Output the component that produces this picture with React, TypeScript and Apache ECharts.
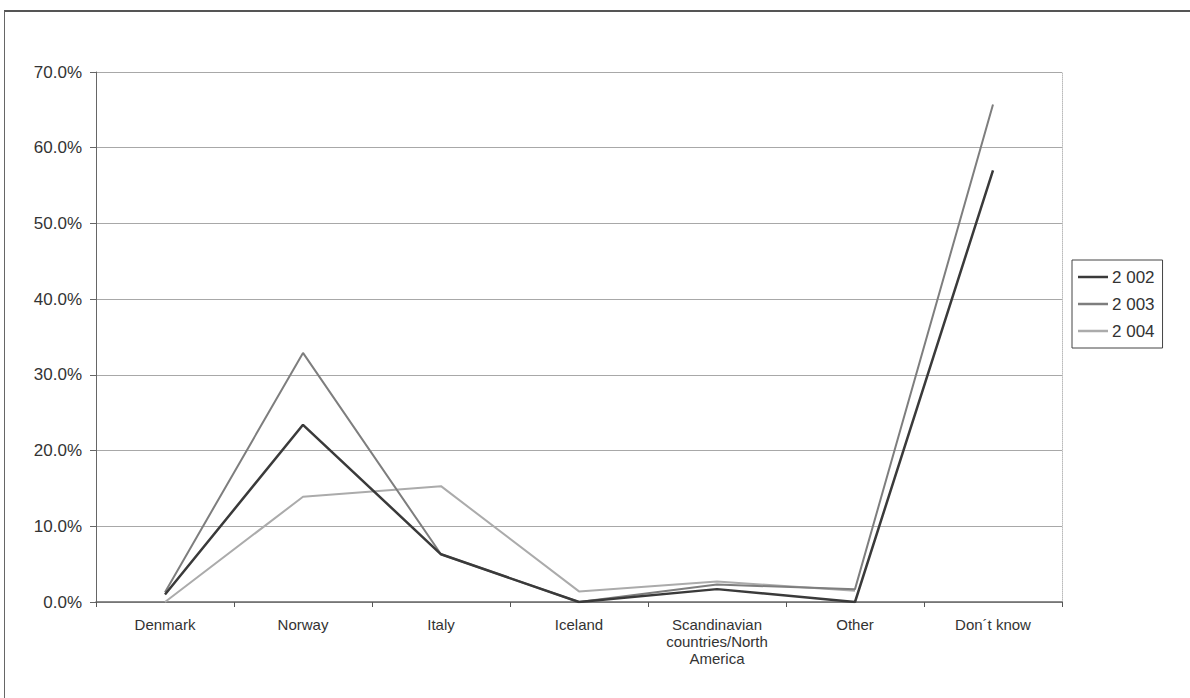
import React, { useEffect, useRef } from "react";
import * as echarts from "echarts";

const categories = [
  "Denmark",
  "Norway",
  "Italy",
  "Iceland",
  "Scandinavian\ncountries/North\nAmerica",
  "Other",
  "Don´t know",
];
const seriesNames = ["2 002", "2 003", "2 004"];
const values2002 = [1.0, 23.4, 6.3, 0.0, 1.7, 0.0, 57.0];
const values2003 = [1.3, 32.9, 6.3, 0.0, 2.3, 1.7, 65.7];
const values2004 = [0.0, 13.9, 15.3, 1.4, 2.7, 1.5, null];
const yTicks = [0, 10, 20, 30, 40, 50, 60, 70];

const colors = ["#3a3a3a", "#7e7e7e", "#ababab"];
const widths = [2.5, 2, 2];

export default function App() {
  const ref = useRef<HTMLDivElement>(null);
  useEffect(() => {
    document.body.style.margin = "0";
    const chart = echarts.init(ref.current!, null, { renderer: "svg" });
    const data = [values2002, values2003, values2004];
    chart.setOption({
      animation: false,
      textStyle: { fontFamily: "Liberation Sans, Arial, sans-serif" },
      grid: { left: 96, right: 128, top: 72, bottom: 96 },
      legend: {
        orient: "vertical",
        left: 1072,
        top: 260,
        width: 96,
        padding: [7, 8, 7, 6],
        borderColor: "#444",
        borderWidth: 1,
        icon: "rect",
        itemWidth: 30,
        itemHeight: 2.5,
        itemGap: 7,
        textStyle: { fontSize: 17, lineHeight: 20, color: "#333", padding: [0, 0, 0, -1] },
        data: seriesNames,
      },
      xAxis: {
        type: "category",
        data: categories,
        boundaryGap: true,
        axisLine: { lineStyle: { color: "#666", width: 1.5 } },
        axisTick: { show: true, length: 5, lineStyle: { color: "#555" } },
        axisLabel: {
          fontSize: 15,
          color: "#333",
          lineHeight: 17,
          margin: 14,
          interval: 0,
        },
      },
      yAxis: [
        {
          type: "value",
          min: yTicks[0],
          max: yTicks[yTicks.length - 1],
          interval: 10,
          axisLine: { show: true, lineStyle: { color: "#666" } },
          axisTick: { show: true, length: 6, lineStyle: { color: "#666" } },
          axisLabel: {
            fontSize: 17,
            color: "#333",
            margin: 14,
            formatter: (v: number) => v.toFixed(1) + "%",
          },
          splitLine: { show: true, lineStyle: { color: "#a8a8a8", width: 1 } },
        },
        {
          type: "value",
          min: yTicks[0],
          max: yTicks[yTicks.length - 1],
          interval: 10,
          position: "right",
          axisLine: { show: true, lineStyle: { color: "#bbb", type: "dotted" } },
          axisTick: { show: false },
          axisLabel: { show: false },
          splitLine: { show: false },
        },
      ],
      series: seriesNames.map((name, i) => ({
        name,
        type: "line",
        data: data[i],
        symbol: "none",
        connectNulls: false,
        lineStyle: { color: colors[i], width: widths[i] },
        itemStyle: { color: colors[i] },
        z: 3 - i,
      })),
    });
    return () => chart.dispose();
  }, []);
  return (
    <div style={{ position: "relative", width: 1190, height: 698, background: "#fff" }}>
      <div
        style={{
          position: "absolute",
          left: 4,
          top: 10,
          width: 1190,
          height: 688,
          borderTop: "2px solid #555",
          borderLeft: "1px solid #666",
          boxSizing: "border-box",
        }}
      />
      <div ref={ref} style={{ position: "absolute", left: 0, top: 0, width: 1190, height: 698 }} />
    </div>
  );
}
